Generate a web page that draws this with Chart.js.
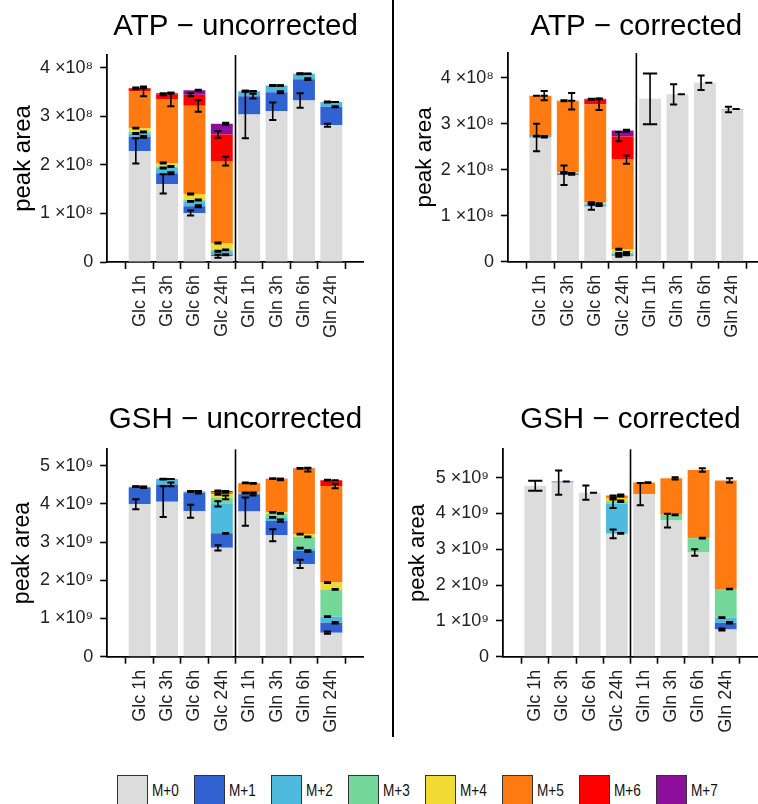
<!DOCTYPE html>
<html>
<head>
<meta charset="utf-8">
<script src="https://cdn.jsdelivr.net/npm/chart.js@4.4.1/dist/chart.umd.min.js"></script>
<style>
  html, body { margin:0; padding:0; background:#fff; width:758px; height:804px; overflow:hidden; position:relative; }
  canvas { position:absolute; }
  #divider { position:absolute; left:392px; top:0; width:2px; height:737px; background:#000; }
  #legend { position:absolute; left:0; top:775px; width:758px; height:29px; }
  .key { position:absolute; top:0; height:40px; width:75px; }
  .box { position:absolute; left:0; top:0; width:31px; height:31px; box-sizing:border-box; border:1.5px solid #333; }
  .lab { position:absolute; left:35px; top:8px; font:16px 'Liberation Sans', Arial, sans-serif; line-height:16px; color:#111; transform:scaleX(0.85); transform-origin:left center; white-space:nowrap; }
</style>
</head>
<body>
<div id="divider"></div>
<div id="legend"></div>
<script>
// ---------- data ----------
const categories = ['Glc 1h', 'Glc 3h', 'Glc 6h', 'Glc 24h', 'Gln 1h', 'Gln 3h', 'Gln 6h', 'Gln 24h'];
const isotopologues = ['M+0', 'M+1', 'M+2', 'M+3', 'M+4', 'M+5', 'M+6', 'M+7'];
const isotopologueColors = ['#dcdcdc', '#3162d1', '#4ebadd', '#76d79b', '#f2da35', '#ff7b12', '#ff0000', '#8b0f9b'];

const atpTicks = [0, 1e8, 2e8, 3e8, 4e8];
const atpTickLabels = ['0', '1 ×10⁸', '2 ×10⁸', '3 ×10⁸', '4 ×10⁸'];
const gshTicks = [0, 1e9, 2e9, 3e9, 4e9, 5e9];
const gshTickLabels = ['0', '1 ×10⁹', '2 ×10⁹', '3 ×10⁹', '4 ×10⁹', '5 ×10⁹'];

// rows: M+0 ... M+7 ; columns: categories
const atpUncorrected = [
  [2.29e8, 1.61e8, 1.01e8, 0.12e8, 3.04e8, 3.11e8, 3.33e8, 2.82e8],
  [0.29e8, 0.22e8, 0.14e8, 0.03e8, 0.38e8, 0.39e8, 0.44e8, 0.38e8],
  [0.07e8, 0.11e8, 0.10e8, 0.07e8, 0.10e8, 0.14e8, 0.11e8, 0.10e8],
  [0.03e8, 0.03e8, 0.03e8, 0.03e8, 0, 0, 0, 0],
  [0.08e8, 0.07e8, 0.12e8, 0.14e8, 0, 0, 0, 0],
  [0.76e8, 1.31e8, 1.82e8, 1.69e8, 0, 0, 0, 0],
  [0.06e8, 0.11e8, 0.23e8, 0.55e8, 0, 0, 0, 0],
  [0.01e8, 0.02e8, 0.09e8, 0.22e8, 0, 0, 0, 0]
];
const atpUncorrectedErr = [
  [0.26e8, 0.20e8, 0.05e8, 0.03e8, 0.49e8, 0.18e8, 0.15e8, 0.03e8],
  [0.02e8, 0.02e8, 0.02e8, 0.01e8, 0.05e8, 0.02e8, 0.02e8, 0.01e8],
  [0.01e8, 0.01e8, 0.01e8, 0.01e8, 0.01e8, 0.01e8, 0.01e8, 0.01e8],
  [0.01e8, 0.01e8, 0.01e8, 0.01e8, 0, 0, 0, 0],
  [0.01e8, 0.01e8, 0.01e8, 0.01e8, 0, 0, 0, 0],
  [0.10e8, 0.14e8, 0.12e8, 0.09e8, 0, 0, 0, 0],
  [0.02e8, 0.02e8, 0.03e8, 0.07e8, 0, 0, 0, 0],
  [0.01e8, 0.01e8, 0.01e8, 0.02e8, 0, 0, 0, 0]
];

const atpCorrected = [
  [2.70e8, 1.88e8, 1.20e8, 0.13e8, 3.54e8, 3.64e8, 3.89e8, 3.31e8],
  [0.01e8, 0.02e8, 0.02e8, 0.02e8, null, 0, 0, 0.01e8],
  [0.02e8, 0.03e8, 0.03e8, 0.03e8, null, null, null, null],
  [0, 0, 0.01e8, 0.02e8, null, null, null, null],
  [0, 0.01e8, 0.02e8, 0.07e8, null, null, null, null],
  [0.88e8, 1.55e8, 2.14e8, 1.95e8, null, null, null, null],
  [0, 0.01e8, 0.11e8, 0.50e8, null, null, null, null],
  [0, 0, 0.01e8, 0.13e8, null, null, null, null]
];
const atpCorrectedErr = [
  [0.30e8, 0.21e8, 0.07e8, 0.02e8, 0.55e8, 0.22e8, 0.16e8, 0.06e8],
  [0.01e8, 0.01e8, 0.01e8, 0.01e8, null, 0, 0, 0],
  [0.01e8, 0.01e8, 0.01e8, 0.01e8, null, null, null, null],
  [0, 0, 0.01e8, 0.01e8, null, null, null, null],
  [0, 0.01e8, 0.01e8, 0.01e8, null, null, null, null],
  [0.10e8, 0.18e8, 0.12e8, 0.09e8, null, null, null, null],
  [0, 0.01e8, 0.01e8, 0.10e8, null, null, null, null],
  [0, 0, 0.01e8, 0.02e8, null, null, null, null]
];

const gshUncorrected = [
  [3.99e9, 4.06e9, 3.81e9, 2.85e9, 3.80e9, 3.18e9, 2.43e9, 0.63e9],
  [0.44e9, 0.45e9, 0.48e9, 0.38e9, 0.45e9, 0.38e9, 0.34e9, 0.26e9],
  [0.02e9, 0.14e9, 0.03e9, 0.77e9, 0.03e9, 0.09e9, 0.07e9, 0.16e9],
  [0, 0, 0.01e9, 0.17e9, 0.01e9, 0.10e9, 0.30e9, 0.71e9],
  [0, 0, 0.01e9, 0.09e9, 0, 0.03e9, 0.07e9, 0.18e9],
  [0, 0, 0, 0.05e9, 0.25e9, 0.86e9, 1.69e9, 2.53e9],
  [0, 0, 0, 0.03e9, 0.01e9, 0.02e9, 0.03e9, 0.15e9],
  [0, 0, 0, 0, 0, 0, 0, 0]
];
const gshUncorrectedErr = [
  [0.13e9, 0.40e9, 0.17e9, 0.07e9, 0.37e9, 0.16e9, 0.11e9, 0.03e9],
  [0.01e9, 0.05e9, 0.02e9, 0.01e9, 0.03e9, 0.03e9, 0.02e9, 0.02e9],
  [0.01e9, 0.01e9, 0.01e9, 0.07e9, 0.01e9, 0.01e9, 0.01e9, 0.01e9],
  [0, 0, 0, 0.05e9, 0.01e9, 0.01e9, 0.01e9, 0.01e9],
  [0, 0, 0, 0.02e9, 0, 0.01e9, 0.01e9, 0.01e9],
  [0, 0, 0, 0.02e9, 0.01e9, 0.02e9, 0.05e9, 0.06e9],
  [0, 0, 0, 0.01e9, 0.01e9, 0.01e9, 0.01e9, 0.01e9],
  [0, 0, 0, 0, 0, 0, 0, 0]
];

const gshCorrected = [
  [4.77e9, 4.86e9, 4.58e9, 3.43e9, 4.54e9, 3.80e9, 2.91e9, 0.76e9],
  [null, 0.03e9, 0, 0.01e9, null, null, null, 0.19e9],
  [null, null, null, 0.83e9, null, null, null, 0.14e9],
  [null, null, null, 0.07e9, null, 0.16e9, 0.40e9, 0.80e9],
  [null, null, null, 0.09e9, null, null, null, null],
  [null, null, null, 0.07e9, 0.32e9, 1.02e9, 1.90e9, 3.03e9],
  [null, null, null, 0, null, null, null, null],
  [null, null, null, 0, null, null, null, null]
];
const gshCorrectedErr = [
  [0.14e9, 0.34e9, 0.20e9, 0.12e9, 0.31e9, 0.19e9, 0.09e9, 0.03e9],
  [null, 0, 0, 0.01e9, null, null, null, 0.02e9],
  [null, null, null, 0.12e9, null, null, null, 0.01e9],
  [null, null, null, 0.02e9, null, 0.01e9, 0.01e9, 0.01e9],
  [null, null, null, 0.02e9, null, null, null, null],
  [null, null, null, 0.03e9, 0.01e9, 0.03e9, 0.05e9, 0.06e9],
  [null, null, null, 0, null, null, null, null],
  [null, null, null, 0, null, null, null, null]
];

// ---------- drawing ----------
const FONT = "'Liberation Sans', Arial, sans-serif";
Chart.defaults.font.family = FONT;

const panels = [
  { title: 'ATP − uncorrected', values: atpUncorrected, errors: atpUncorrectedErr,
    ticks: atpTicks, tickLabels: atpTickLabels, yMax: 4.268e8,
    box: {left: 0, top: 0, width: 380, height: 380},
    padding: {left: 0, right: 16.2, top: 0, bottom: 0},
    yWidth: 107.2, xHeight: 118, titlePad: {top: 9.3, bottom: 10.3},
    yTitleSize: 24, yTitlePad: 8.6 },
  { title: 'ATP − corrected', values: atpCorrected, errors: atpCorrectedErr,
    ticks: atpTicks, tickLabels: atpTickLabels, yMax: 4.537e8,
    box: {left: 394, top: 0, width: 390, height: 380},
    padding: {left: 0, right: 19.2, top: 0, bottom: 0},
    yWidth: 113.9, xHeight: 118.3, titlePad: {top: 9, bottom: 8.6},
    yTitleSize: 22.5, yTitlePad: 17.5 },
  { title: 'GSH − uncorrected', values: gshUncorrected, errors: gshUncorrectedErr,
    ticks: gshTicks, tickLabels: gshTickLabels, yMax: 5.43e9,
    box: {left: 0, top: 392, width: 380, height: 380},
    padding: {left: 0, right: 16.2, top: 0, bottom: 0},
    yWidth: 107.2, xHeight: 115.3, titlePad: {top: 10.3, bottom: 11.6},
    yTitleSize: 23, yTitlePad: 8.7 },
  { title: 'GSH − corrected', values: gshCorrected, errors: gshCorrectedErr,
    ticks: gshTicks, tickLabels: gshTickLabels, yMax: 5.79e9,
    box: {left: 394, top: 392, width: 380, height: 380},
    padding: {left: 0, right: 16, top: 0, bottom: 0},
    yWidth: 109, xHeight: 115.3, titlePad: {top: 10.3, bottom: 11.6},
    yTitleSize: 22, yTitlePad: 10.3 }
];

const panelDecor = {
  id: 'panelDecor',
  afterDatasetsDraw(chart, args, opts) {
    const {ctx, chartArea} = chart;
    const xs = chart.scales.x, ys = chart.scales.y;
    const unit = xs.getPixelForValue(1) - xs.getPixelForValue(0);
    const values = opts.values, errors = opts.errors;
    ctx.save();
    // separator between Glc and Gln groups
    const split = categories.findIndex(c => c.startsWith('Gln'));
    const sx = (xs.getPixelForValue(split - 1) + xs.getPixelForValue(split)) / 2;
    ctx.strokeStyle = '#000';
    ctx.lineWidth = 1.6;
    ctx.beginPath();
    ctx.moveTo(sx, chartArea.top);
    ctx.lineTo(sx, chartArea.bottom);
    ctx.stroke();
    // error bars at the top of each stacked segment
    for (let j = 0; j < categories.length; j++) {
      const present = [];
      for (let s = 0; s < values.length; s++) if (values[s][j] !== null) present.push(s);
      let cum = 0;
      const cx = xs.getPixelForValue(j);
      for (let s = 0; s < values.length; s++) {
        const v = values[s][j];
        if (v === null) continue;
        cum += v;
        const e = errors[s][j] || 0;
        const single = present.length === 1;
        const x = single ? cx : cx + (s % 2 === 0 ? -0.14 : 0.14) * unit;
        const hw = single ? 0.26 * unit : 0.13 * unit;
        const yTop = ys.getPixelForValue(cum + e);
        const yBot = ys.getPixelForValue(cum - e);
        ctx.strokeStyle = '#000';
        ctx.lineWidth = 1.6;
        ctx.beginPath();
        ctx.moveTo(x, yTop); ctx.lineTo(x, yBot);
        ctx.stroke();
        ctx.lineWidth = 2;
        ctx.beginPath();
        ctx.moveTo(x - hw, yTop); ctx.lineTo(x + hw, yTop);
        ctx.moveTo(x - hw, yBot); ctx.lineTo(x + hw, yBot);
        ctx.stroke();
      }
    }
    ctx.restore();
  }
};

panels.forEach(p => {
  const c = document.createElement('canvas');
  c.width = p.box.width; c.height = p.box.height;
  c.style.left = p.box.left + 'px'; c.style.top = p.box.top + 'px';
  c.style.width = p.box.width + 'px'; c.style.height = p.box.height + 'px';
  document.body.appendChild(c);

  new Chart(c, {
    type: 'bar',
    data: {
      datasets: isotopologues.map((name, s) => ({
        label: name,
        stack: 'iso',
        data: p.values[s].map((v, j) => ({x: j, y: v})),
        backgroundColor: isotopologueColors[s],
        borderWidth: 0,
        barPercentage: 0.8,
        categoryPercentage: 1.0
      }))
    },
    options: {
      responsive: false,
      animation: false,
      devicePixelRatio: 1,
      layout: { padding: p.padding },
      plugins: {
        legend: { display: false },
        tooltip: { enabled: false },
        title: {
          display: true, text: p.title, fullSize: false, align: 'center',
          color: '#000',
          font: { family: FONT, size: 29.5, weight: 'normal', lineHeight: 1.2 },
          padding: p.titlePad
        },
        panelDecor: { values: p.values, errors: p.errors }
      },
      scales: {
        x: {
          type: 'linear',
          min: -0.6, max: categories.length - 0.4,
          afterBuildTicks: s => { s.ticks = categories.map((cat, i) => ({value: i})); },
          afterFit: s => { s.height = p.xHeight; },
          ticks: {
            callback: v => categories[v],
            autoSkip: false, minRotation: 90, maxRotation: 90,
            padding: 6, color: '#222',
            font: { family: FONT, size: 18 }
          },
          grid: { drawOnChartArea: false, drawTicks: true, tickLength: 7, tickColor: '#000', tickWidth: 1.6 },
          border: { display: true, color: '#000', width: 1.8 }
        },
        y: {
          type: 'linear', stacked: true,
          min: 0, max: p.yMax,
          afterBuildTicks: s => { s.ticks = p.ticks.map(v => ({value: v})); },
          afterFit: s => { s.width = p.yWidth; },
          ticks: {
            callback: (v, i) => p.tickLabels[i],
            padding: 7, color: '#222',
            font: { family: FONT, size: 18 }
          },
          grid: { drawOnChartArea: false, drawTicks: true, tickLength: 7, tickColor: '#000', tickWidth: 1.6 },
          border: { display: true, color: '#000', width: 1.8 },
          title: {
            display: true, text: 'peak area', color: '#000',
            font: { family: FONT, size: p.yTitleSize, weight: 'normal', lineHeight: 1.2 },
            padding: { top: p.yTitlePad, bottom: 0 }
          }
        }
      }
    },
    plugins: [panelDecor]
  });
});

// legend
const legendEl = document.getElementById('legend');
isotopologues.forEach((name, s) => {
  const key = document.createElement('div');
  key.className = 'key';
  key.style.left = (117 + 77 * s) + 'px';
  const box = document.createElement('div');
  box.className = 'box';
  box.style.background = isotopologueColors[s];
  const lab = document.createElement('div');
  lab.className = 'lab';
  lab.textContent = name;
  key.appendChild(box); key.appendChild(lab);
  legendEl.appendChild(key);
});
</script>
</body>
</html>
